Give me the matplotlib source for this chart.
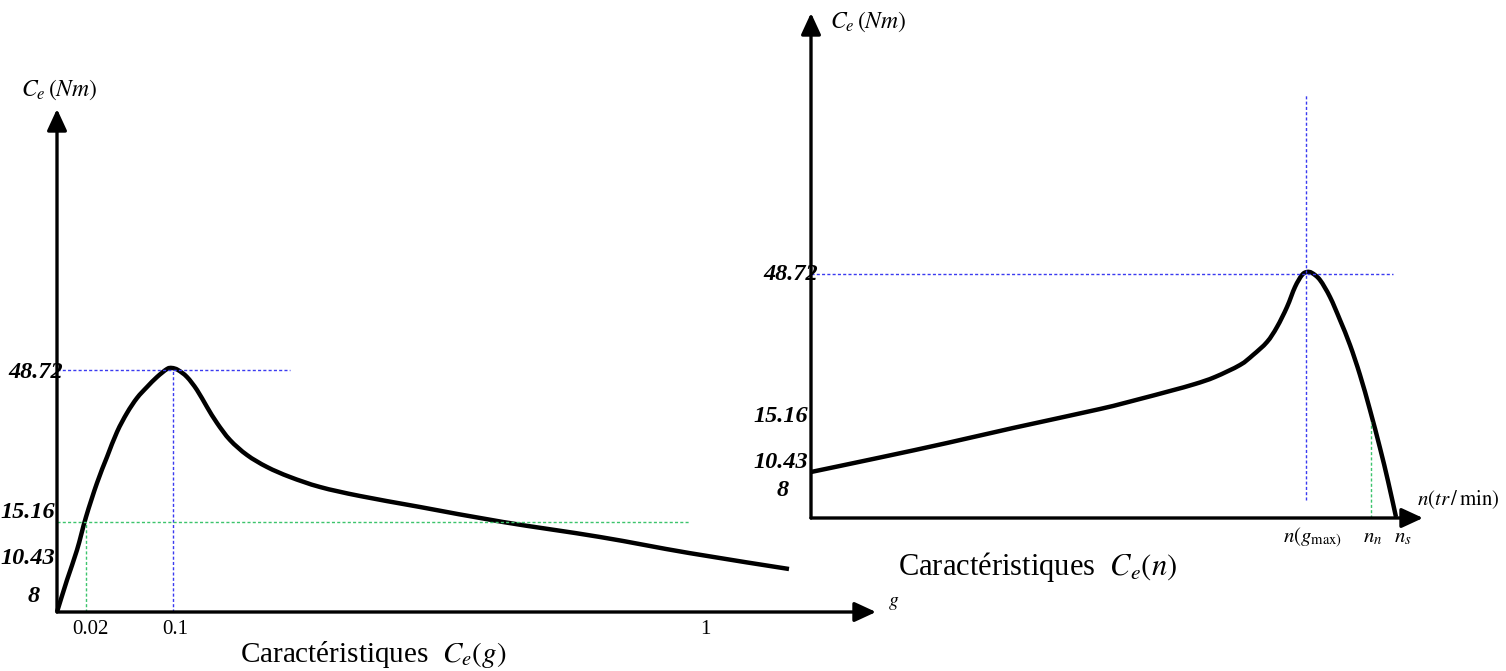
import matplotlib
matplotlib.use("Agg")
import matplotlib.pyplot as plt
import numpy as np
from matplotlib.path import Path
from matplotlib.patches import PathPatch

plt.rcParams['font.family'] = ['Liberation Serif', 'DejaVu Serif']
plt.rcParams['mathtext.fontset'] = 'stix'

# ---------------- data (schematic units) ----------------
# Left panel: torque vs slip C_e(g)
g_curve_x = [0, 10, 20, 29, 40, 50, 60, 70, 80, 90, 100, 110, 115, 121, 130, 140,
             150, 160, 173, 190, 210, 233, 263, 303, 363, 446, 543, 632, 732]
g_curve_y = [0, 32, 62, 95, 129, 155, 180, 199, 214, 225, 235, 243, 244, 242, 235, 222,
             205, 189, 172, 157, 145, 135, 125, 116, 105, 90, 75, 59, 43]
g_tick_labels = ['0.02', '0.1', '1']
ce_labels = ['48.72', '15.16', '10.43', '8']

# Right panel: torque vs speed C_e(n)
n_curve_x = [0, 69, 136, 202, 289, 325, 359, 384, 404, 429, 442, 456, 466, 476, 484,
             491, 496, 501, 509, 519, 529, 539, 549, 559, 569, 577, 585]
n_curve_y = [46, 60.5, 75, 90, 109, 118, 127, 134, 141, 153, 163, 176, 191, 211, 231,
             243, 246, 245, 238, 221, 198, 173, 143, 108, 70, 37, 1]
n_tick_labels = [r'$n(g_{\mathrm{max)}}$', r'$n_n$', r'$n_s$']

# ---------------- figure ----------------
W, H = 1506, 671
fig = plt.figure(figsize=(W / 100, H / 100), dpi=100)

BLUE = '#3a3af0'
GREEN = '#3cc46c'
DOT = (0, (2.2, 1.6))
bi = dict(fontweight='bold', fontstyle='italic', fontsize=17.5, color='black')


def arrow(ax, tip, base):
    ax.annotate('', xy=tip, xytext=base,
                arrowprops=dict(arrowstyle='-|>,head_length=0.65,head_width=0.3',
                                lw=2.4, color='black', shrinkA=0, shrinkB=0,
                                mutation_scale=20),
                annotation_clip=False)


def smooth_curve(ax, xs, ys, **kw):
    """Draw a smooth line through the read points (cubic Bezier segments)."""
    p = np.column_stack([xs, ys]).astype(float)
    n = len(p)
    verts = [p[0]]
    codes = [Path.MOVETO]
    for i in range(n - 1):
        p0 = p[i - 1] if i > 0 else p[i]
        p1, p2 = p[i], p[i + 1]
        p3 = p[i + 2] if i + 2 < n else p[i + 1]
        c1 = p1 + (p2 - p0) / 6.0
        c2 = p2 - (p3 - p1) / 6.0
        verts += [c1, c2, p2]
        codes += [Path.CURVE4] * 3
    patch = PathPatch(Path(verts, codes), fill=False, clip_on=False, **kw)
    ax.add_patch(patch)


# ----- left panel: origin at pixel (57, 612) -----
axL = fig.add_axes([57 / W, (H - 612) / H, 843 / W, 532 / H])
axL.set_xlim(0, 843)
axL.set_ylim(0, 532)
axL.axis('off')

axL.plot([0, 233], [242, 242], color=BLUE, lw=1.0, ls=DOT)
axL.plot([116, 116], [0, 242], color=BLUE, lw=1.0, ls=DOT)
axL.plot([0, 632], [90, 90], color=GREEN, lw=1.0, ls=DOT)
axL.plot([29, 29], [0, 90], color=GREEN, lw=1.0, ls=DOT)

arrow(axL, (0, 503), (0, 0))
arrow(axL, (819, 0), (0, 0))

smooth_curve(axL, g_curve_x, g_curve_y, edgecolor='black', lw=3.2,
             joinstyle='round', capstyle='butt')

for lab, yy, xx in zip(ce_labels, [240, 100, 54, 15], [6, -2, -2, -17]):
    axL.text(xx, yy, lab, ha='right', va='center', clip_on=False, **bi)
for lab, xx in zip(g_tick_labels, [33, 118, 648]):
    axL.text(xx, -18, lab, ha='center', va='center', fontsize=15)
axL.text(831, 8, r'$g$', ha='left', va='center', fontsize=14)
axL.text(-36, 522, r'$C_e\,(Nm)$', ha='left', va='center', fontsize=17)
axL.text(183, -42, r'Caractéristiques  $C_e(g)$', ha='left', va='center', fontsize=21)

# ----- right panel: origin at pixel (811, 518) -----
axR = fig.add_axes([811 / W, (H - 518) / H, 695 / W, 513 / H])
axR.set_xlim(0, 695)
axR.set_ylim(0, 513)
axR.axis('off')

axR.plot([0, 582], [244, 244], color=BLUE, lw=1.0, ls=DOT)
axR.plot([495, 495], [18, 423], color=BLUE, lw=1.0, ls=DOT)
axR.plot([560, 560], [0, 96], color=GREEN, lw=1.0, ls=DOT)

arrow(axR, (0, 505), (0, 0))
arrow(axR, (612, 0), (0, 0))

smooth_curve(axR, n_curve_x, n_curve_y, edgecolor='black', lw=3.2,
             joinstyle='round', capstyle='butt')

for lab, yy, xx in zip(ce_labels, [244, 101, 55, 28], [7, -3, -3, -22]):
    axR.text(xx, yy, lab, ha='right', va='center', clip_on=False, **bi)
for lab, xx in zip(n_tick_labels, [472, 552, 583]):
    axR.text(xx, -20, lab, ha='left', va='center', fontsize=15)
axR.text(606, 18, r'$n(tr\,/\,\mathrm{min})$', ha='left', va='center', fontsize=15)
axR.text(19, 496, r'$C_e\,(Nm)$', ha='left', va='center', fontsize=17)
axR.text(87, -49, r'Caractéristiques  $C_e(n)$', ha='left', va='center', fontsize=22)

fig.savefig('out.png', dpi=100)
